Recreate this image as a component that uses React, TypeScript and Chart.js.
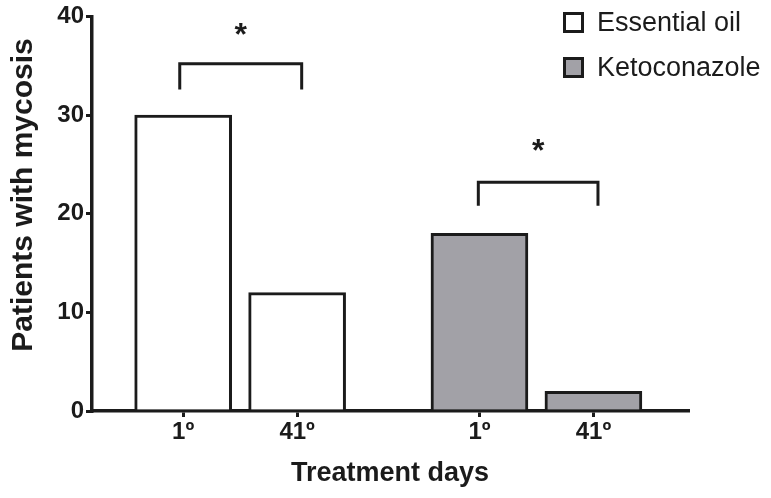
import React, { useEffect, useRef } from 'react';
import { Chart, registerables } from 'chart.js';

Chart.register(...registerables);

// ---- data ----
const dayLabels = ['1º', '41º', '1º', '41º'];
const dayPositions = [0, 1, 2.6, 3.6];
const seriesNames = ['Essential oil', 'Ketoconazole'];
const essentialOilDays = [0, 1];
const essentialOilValues = [30, 12];
const ketoconazoleDays = [2.6, 3.6];
const ketoconazoleValues = [18, 2];
const yTicks = [0, 10, 20, 30, 40];
const yTitle = 'Patients with mycosis';
const xTitle = 'Treatment days';
const bracketStarts = [-0.03, 2.59];
const bracketEnds = [1.04, 3.64];
const bracketTops = [35.2, 23.2];
const bracketFeet = [32.6, 20.8];
const starLevels = [38.7, 27.0];
const starLabels = ['*', '*'];

const FONT = "'Liberation Sans', Arial, Helvetica, sans-serif";
const INK = '#1b1b1b';
const GRAY = '#a2a1a7';

const annotations = {
  id: 'annotations',
  afterDraw(chart: any) {
    const ctx = chart.ctx;
    const xs = chart.scales.x;
    const ys = chart.scales.y;
    ctx.save();
    // y axis title
    ctx.save();
    ctx.translate(24, 195);
    ctx.rotate(-Math.PI / 2);
    ctx.font = `bold 30px ${FONT}`;
    ctx.fillStyle = INK;
    ctx.textAlign = 'center';
    ctx.textBaseline = 'middle';
    ctx.fillText(yTitle, 0, 0);
    ctx.restore();
    // significance brackets
    ctx.strokeStyle = INK;
    ctx.lineWidth = 3;
    ctx.lineJoin = 'miter';
    ctx.lineCap = 'butt';
    for (let i = 0; i < bracketStarts.length; i++) {
      const x1 = xs.getPixelForValue(bracketStarts[i]);
      const x2 = xs.getPixelForValue(bracketEnds[i]);
      const yt = ys.getPixelForValue(bracketTops[i]);
      const yf = ys.getPixelForValue(bracketFeet[i]);
      ctx.beginPath();
      ctx.moveTo(x1, yf);
      ctx.lineTo(x1, yt);
      ctx.lineTo(x2, yt);
      ctx.lineTo(x2, yf);
      ctx.stroke();
      const fs = 32;
      ctx.font = `bold ${fs}px ${FONT}`;
      ctx.fillStyle = INK;
      ctx.textAlign = 'center';
      ctx.textBaseline = 'alphabetic';
      ctx.fillText(starLabels[i], (x1 + x2) / 2, ys.getPixelForValue(starLevels[i]) + fs * 0.5);
    }
    // legend
    const ds = chart.data.datasets;
    for (let i = 0; i < ds.length; i++) {
      const top = 12 + i * 45;
      ctx.fillStyle = ds[i].backgroundColor;
      ctx.fillRect(563, top, 21, 21);
      ctx.strokeStyle = INK;
      ctx.lineWidth = 3;
      ctx.strokeRect(564.5, top + 1.5, 18, 18);
      ctx.fillStyle = INK;
      ctx.font = `27px ${FONT}`;
      ctx.textAlign = 'left';
      ctx.textBaseline = 'middle';
      ctx.fillText(ds[i].label, 597, top + 12);
    }
    ctx.restore();
  },
};

export default function App() {
  const ref = useRef<HTMLCanvasElement | null>(null);
  useEffect(() => {
    if (!ref.current) return;
    const chart = new Chart(ref.current, {
      type: 'bar',
      data: {
        datasets: [
          {
            label: seriesNames[0],
            data: essentialOilDays.map((d, i) => ({ x: d, y: essentialOilValues[i] })),
            backgroundColor: '#ffffff',
            borderColor: INK,
            borderWidth: 3,
            borderSkipped: 'start',
            barThickness: 97,
            grouped: false,
          } as any,
          {
            label: seriesNames[1],
            data: ketoconazoleDays.map((d, i) => ({ x: d, y: ketoconazoleValues[i] })),
            backgroundColor: GRAY,
            borderColor: INK,
            borderWidth: 3,
            borderSkipped: 'start',
            barThickness: 97,
            grouped: false,
          } as any,
        ],
      },
      options: {
        responsive: false,
        animation: false,
        layout: { padding: { top: 15, right: 83, left: 0, bottom: 0 } },
        plugins: { legend: { display: false }, tooltip: { enabled: false } },
        scales: {
          x: {
            type: 'linear',
            min: -0.8,
            max: 4.43,
            offset: false,
            afterBuildTicks: (scale: any) => {
              scale.ticks = dayPositions.map((v) => ({ value: v }));
            },
            afterFit: (scale: any) => {
              scale.height = 87;
            },
            ticks: {
              callback: (_v: any, i: number) => dayLabels[i],
              color: INK,
              font: { family: FONT, size: 24, weight: 'bold' },
              padding: 1,
              maxRotation: 0,
              autoSkip: false,
            },
            grid: {
              display: true,
              offset: false,
              drawOnChartArea: false,
              drawTicks: true,
              tickLength: 6,
              color: INK,
              lineWidth: 3,
            },
            border: { display: true, color: INK, width: 3.5 },
            title: {
              display: true,
              text: xTitle,
              color: INK,
              font: { family: FONT, size: 27, weight: 'bold' },
              padding: { top: 0, bottom: 8 },
            },
          },
          y: {
            min: 0,
            max: 40,
            afterBuildTicks: (scale: any) => {
              scale.ticks = yTicks.map((v) => ({ value: v }));
            },
            afterFit: (scale: any) => {
              scale.width = 92;
            },
            ticks: {
              color: INK,
              font: { family: FONT, size: 24, weight: 'bold' },
              padding: 2,
            },
            grid: {
              display: true,
              drawOnChartArea: false,
              drawTicks: true,
              tickLength: 6,
              color: INK,
              lineWidth: 3,
            },
            border: { display: true, color: INK, width: 3.5 },
            title: { display: false },
          },
        },
      } as any,
      plugins: [annotations],
    });
    return () => chart.destroy();
  }, []);
  return (
    <div style={{ position: 'absolute', left: 0, top: 0, width: 771, height: 498, background: '#fff' }}>
      <canvas ref={ref} width={771} height={498} style={{ display: 'block' }} />
    </div>
  );
}
